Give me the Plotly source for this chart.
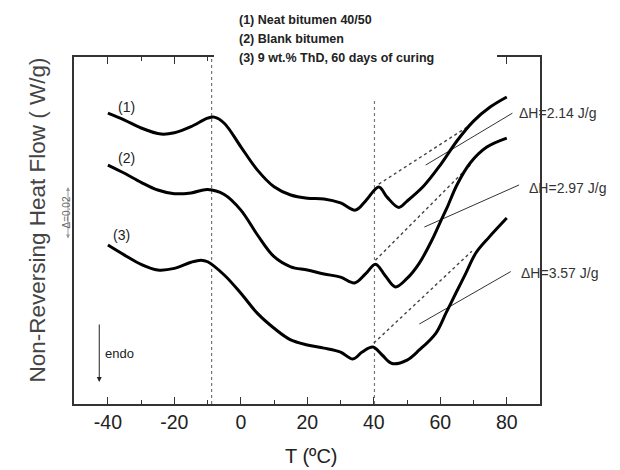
import plotly.graph_objects as go

# Temperature (°C) and non-reversing heat flow (W/g, arbitrary offset)
T1 = [-40, -35, -30, -24, -20, -15, -10, -8, -5, 0, 5, 10, 15, 20, 25, 30, 34.5, 37.5, 41.5, 44, 47.5, 50, 55, 60, 65, 70, 75, 80]
HF1 = [0.1098, 0.1072, 0.1042, 0.1019, 0.1024, 0.1047, 0.1079, 0.1083, 0.1060, 0.0971, 0.0883, 0.0820, 0.0789, 0.0777,
       0.0774, 0.0759, 0.0732, 0.0766, 0.0819, 0.0781, 0.0742, 0.0766, 0.0823, 0.0902, 0.0993, 0.1068, 0.1121, 0.1159]

T2 = [-40, -35, -30, -25, -20, -15, -10, -5, 0, 5, 10, 15, 20, 25, 30, 34.2, 37.5, 40.5, 43.5, 46.5, 50, 53.7, 57.5, 60, 62, 65, 69, 74, 80]
HF2 = [0.0902, 0.0871, 0.0837, 0.0808, 0.0794, 0.0797, 0.0810, 0.0791, 0.0732, 0.0638, 0.0556, 0.0518, 0.0506, 0.0491,
       0.0479, 0.0457, 0.0491, 0.0528, 0.0483, 0.0442, 0.0474, 0.0532, 0.0619, 0.0687, 0.0740, 0.0827, 0.0910, 0.0970, 0.1004]

T3 = [-40, -35, -30, -25, -20, -15, -12, -10, -5, 0, 5, 10, 15, 20, 25, 30, 33.7, 36.5, 39.7, 42.5, 45.5, 50, 53.7, 58.7, 61.7, 64.7, 67.7, 70.7, 74.7, 80]
HF3 = [0.0600, 0.0562, 0.0527, 0.0506, 0.0512, 0.0535, 0.0543, 0.0537, 0.0487, 0.0418, 0.0342, 0.0286, 0.0242, 0.0223,
       0.0211, 0.0196, 0.0170, 0.0196, 0.0215, 0.0185, 0.0153, 0.0166, 0.0204, 0.0268, 0.0343, 0.0419, 0.0494, 0.0570, 0.0630, 0.0702]

# Dotted baselines (start, end) for enthalpy integration
BASE_T = [[41.5, 69.5], [40.5, 69.0], [40.0, 69.5]]
BASE_HF = [[0.0830, 0.1057], [0.0543, 0.0902], [0.0230, 0.0577]]

# Leader lines to ΔH labels
LEAD_T = [[55.6, 81.7], [55.2, 83.7], [53.7, 81.2]]
LEAD_HF = [[0.0902, 0.1098], [0.0668, 0.0827], [0.0302, 0.0500]]
DH_LABELS = ["\u0394H=2.14 J/g", "\u0394H=2.97 J/g", "\u0394H=3.57 J/g"]
DH_T = [83.1, 86.1, 83.7]
DH_HF = [0.1098, 0.0815, 0.0494]

CURVE_LABELS = ["(1)", "(2)", "(3)"]
CURVE_LABEL_T = [-34.3, -34.3, -35.8]
CURVE_LABEL_HF = [0.1122, 0.0927, 0.0638]

VLINES_T = [-8.8, 40.2]
VLINES_TOP = [0.131, 0.1147]

XTICKS = [-40, -20, 0, 20, 40, 60, 80]
XTICK_TEXT = ["-40", "-20", "0", "20", "40", "60", "80"]
LEGEND_LINES = ["(1) Neat bitumen 40/50", "(2) Blank bitumen", "(3) 9 wt.% ThD, 60 days of curing"]

FONT = "Liberation Sans, Arial, sans-serif"

# plot area in figure pixels (page has an 8px body margin)
PL, PT, PW, PH = 66, 49, 466, 347


def px(xp):
    """page x pixel -> paper x"""
    return (xp - 74) / PW


def py(yp):
    """page y pixel -> paper y"""
    return (404 - yp) / PH


fig = go.Figure()

for vt, top in zip(VLINES_T, VLINES_TOP):
    fig.add_trace(go.Scatter(x=[vt, vt], y=[0, top], mode="lines",
                             line=dict(color="#777", width=1.2, dash="dot"), showlegend=False))

for bt, bh in zip(BASE_T, BASE_HF):
    fig.add_trace(go.Scatter(x=bt, y=bh, mode="lines",
                             line=dict(color="#444", width=1.4, dash="dot"), showlegend=False))

for lt, lh in zip(LEAD_T, LEAD_HF):
    fig.add_trace(go.Scatter(x=lt, y=lh, mode="lines",
                             line=dict(color="#333", width=1), showlegend=False, cliponaxis=False))

for tx, hy in [(T1, HF1), (T2, HF2), (T3, HF3)]:
    fig.add_trace(go.Scatter(x=tx, y=hy, mode="lines",
                             line=dict(color="black", width=3, shape="spline", smoothing=1.0),
                             showlegend=False))

annotations = []
for lab, tx, hy in zip(DH_LABELS, DH_T, DH_HF):
    annotations.append(dict(x=tx, y=hy, xref="x", yref="y", text=lab, showarrow=False,
                            xanchor="left", yanchor="middle",
                            font=dict(family=FONT, size=14, color="#333")))
for lab, tx, hy in zip(CURVE_LABELS, CURVE_LABEL_T, CURVE_LABEL_HF):
    annotations.append(dict(x=tx, y=hy, xref="x", yref="y", text=lab, showarrow=False,
                            font=dict(family=FONT, size=14, color="#222")))

# legend text block (page coords: left x=237, line centres y=20,39,58)
for i, line in enumerate(LEGEND_LINES):
    annotations.append(dict(xref="paper", yref="paper",
                            x=px(237), y=py(20 + 19 * i),
                            text="<b>" + line + "</b>", showarrow=False,
                            xanchor="left", yanchor="middle",
                            font=dict(family=FONT, size=12.5, color="#222")))

# scale bar (double arrow, page x=68 from y=187 to 240)
annotations.append(dict(x=px(68), y=py(187), xref="paper", yref="paper",
                        ax=0, ay=53, text="", showarrow=True, arrowhead=2,
                        arrowside="end+start", arrowsize=0.8, arrowwidth=1, arrowcolor="#999"))
annotations.append(dict(x=px(58), y=py(213), xref="paper", yref="paper", text="\u0394=0.02",
                        textangle=-90, showarrow=False,
                        font=dict(family=FONT, size=10, color="#666")))
# endo arrow
annotations.append(dict(x=-42.6, y=0.0083, ax=-42.6, ay=0.0306, xref="x", yref="y",
                        axref="x", ayref="y", text="", showarrow=True, arrowhead=2,
                        arrowsize=1, arrowwidth=1, arrowcolor="#222"))
annotations.append(dict(x=-41.5, y=0.0192, xref="x", yref="y", text="endo",
                        showarrow=False, xanchor="left",
                        font=dict(family=FONT, size=13, color="#222")))
# y-axis title (page centre x=22, y=220)
annotations.append(dict(x=px(22), y=py(220), xref="paper", yref="paper",
                        text="Non-Reversing Heat Flow ( W/g)", textangle=-90, showarrow=False,
                        font=dict(family=FONT, size=22.5, color="#444")))
# x-axis title (page centre x=311, y=456)
annotations.append(dict(x=px(311), y=py(456), xref="paper", yref="paper",
                        text="T (\u00baC)", showarrow=False, yanchor="middle",
                        font=dict(family=FONT, size=20, color="#222")))

shapes = [dict(type="rect", xref="paper", yref="paper",
               x0=px(214), x1=px(497),
               y0=0.96, y1=1.2, fillcolor="white", line=dict(width=0), layer="above")]

fig.update_layout(
    width=612, height=462,
    margin=dict(l=PL, r=612 - PL - PW, t=PT, b=462 - PT - PH),
    paper_bgcolor="white", plot_bgcolor="white",
    font=dict(family=FONT, color="#222"),
    annotations=annotations,
    shapes=shapes,
    xaxis=dict(range=[-50.2, 90], tickvals=XTICKS, ticktext=XTICK_TEXT, ticks="inside", ticklen=7,
               tickwidth=1.3, tickcolor="#333", showline=True, linecolor="#333", linewidth=1.5,
               mirror="ticks", showgrid=False, zeroline=False, ticklabelstandoff=0,
               minor=dict(dtick=10, tick0=0, ticks="inside", ticklen=4, tickwidth=1.3, tickcolor="#333"),
               tickfont=dict(family=FONT, size=19.5, color="#222")),
    yaxis=dict(range=[0, 0.131], showticklabels=False, ticks="", showline=True, linecolor="#333",
               linewidth=1.5, mirror=True, showgrid=False, zeroline=False),
)

fig.write_html("out.html")
